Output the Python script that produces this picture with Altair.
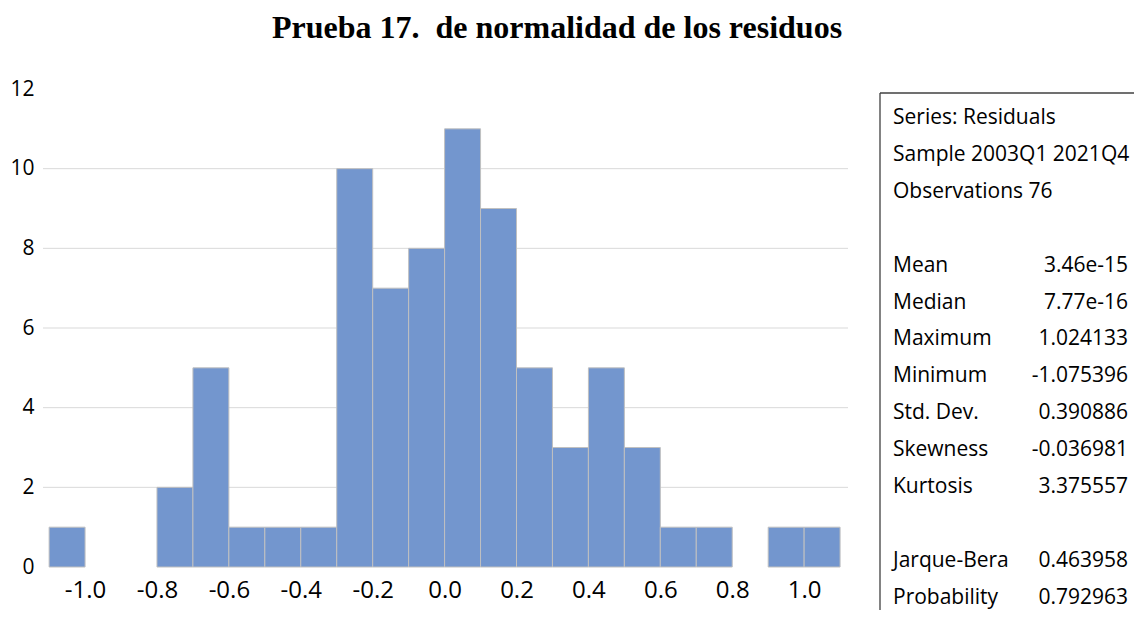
import altair as alt
import pandas as pd

# Histogram data (bin edges and counts)
bin_start = [-1.1, -1.0, -0.9, -0.8, -0.7, -0.6, -0.5, -0.4, -0.3, -0.2, -0.1,
             0.0, 0.1, 0.2, 0.3, 0.4, 0.5, 0.6, 0.7, 0.8, 0.9, 1.0]
bin_end = [-1.0, -0.9, -0.8, -0.7, -0.6, -0.5, -0.4, -0.3, -0.2, -0.1, 0.0,
           0.1, 0.2, 0.3, 0.4, 0.5, 0.6, 0.7, 0.8, 0.9, 1.0, 1.1]
counts = [1, 0, 0, 2, 5, 1, 1, 1, 10, 7, 8,
          11, 9, 5, 3, 5, 3, 1, 1, 0, 1, 1]

x_ticks = [-1.0, -0.8, -0.6, -0.4, -0.2, 0.0, 0.2, 0.4, 0.6, 0.8, 1.0]
y_ticks = [0, 2, 4, 6, 8, 10, 12]
grid_vals = [2, 4, 6, 8, 10]

# Statistics panel
stat_labels = ["Series: Residuals", "Sample 2003Q1 2021Q4", "Observations 76",
               "Mean", "Median", "Maximum", "Minimum", "Std. Dev.",
               "Skewness", "Kurtosis", "Jarque-Bera", "Probability"]
stat_values = ["", "", "", "3.46e-15", "7.77e-16", "1.024133", "-1.075396",
               "0.390886", "-0.036981", "3.375557", "0.463958", "0.792963"]
stat_rows = [0, 1, 2, 4, 5, 6, 7, 8, 9, 10, 12, 13]

title_text = "Prueba 17.\u00a0 de normalidad de los residuos"

hist = pd.DataFrame({"start": bin_start, "end": bin_end, "count": counts})
grid = pd.DataFrame({"g": grid_vals})
stats = pd.DataFrame({"label": stat_labels, "value": stat_values, "row": stat_rows})

W, H = 805, 478
xscale = alt.Scale(domain=[-1.117, 1.122], nice=False, zero=False)
yscale = alt.Scale(domain=[0, 12], nice=False)

LABEL_FONT = "Open Sans"

y_axis = alt.Axis(values=y_ticks, title=None, grid=False, domain=False,
                  ticks=False, labelFont=LABEL_FONT, labelFontSize=21,
                  labelColor="#000000", labelPadding=9, labelFlush=False)
x_axis = alt.Axis(values=x_ticks, title=None, grid=False, domain=False,
                  ticks=False, labelFont=LABEL_FONT, labelFontSize=24,
                  labelColor="#000000", labelPadding=11, labelFlush=False,
                  labelExpr="datum.value < 0 ? '-' + format(-datum.value, '.1f') : format(datum.value, '.1f')")

gridlines = alt.Chart(grid).mark_rule(color="#d9d9d9", strokeWidth=1).encode(
    y=alt.Y("g:Q", scale=yscale, axis=y_axis),
    x=alt.value(0), x2=alt.value(W)
)

bars = alt.Chart(hist).transform_filter("datum.count > 0").mark_rect(
    color="#7396ce", stroke="#c0c0c0", strokeWidth=1
).encode(
    x=alt.X("start:Q", scale=xscale, axis=x_axis),
    x2="end:Q",
    y=alt.Y("count:Q", scale=yscale, axis=y_axis),
    y2=alt.datum(0),
)

base_stats = alt.Chart(stats).transform_calculate(py="29 + 36.9 * datum.row")

stat_lab = base_stats.mark_text(
    align="left", baseline="middle", font=LABEL_FONT, fontSize=21, color="#000000"
).encode(x=alt.value(850), y=alt.Y("py:Q", scale=None), text="label:N")

stat_val = base_stats.mark_text(
    align="right", baseline="middle", font=LABEL_FONT, fontSize=21, color="#000000"
).encode(x=alt.value(1085), y=alt.Y("py:Q", scale=None), text="value:N")

box_top = alt.Chart(pd.DataFrame({"a": [0]})).mark_rule(color="#404040", strokeWidth=1.3).encode(
    x=alt.value(837), x2=alt.value(1100), y=alt.value(4)
)
box_left = alt.Chart(pd.DataFrame({"a": [0]})).mark_rule(color="#404040", strokeWidth=1.3).encode(
    x=alt.value(837), y=alt.value(4), y2=alt.value(525)
)

title = alt.Chart(pd.DataFrame({"t": [title_text]})).mark_text(
    font="Liberation Serif", fontSize=32, fontWeight="bold", color="#000000",
    align="center", baseline="middle"
).encode(x=alt.value(514), y=alt.value(-61), text="t:N")

chart = alt.layer(gridlines, bars, stat_lab, stat_val, box_top, box_left, title).properties(
    width=W, height=H,
    background="white",
    autosize=alt.AutoSizeParams(type="none"),
    padding={"left": 35, "top": 81, "right": 286, "bottom": 43},
).configure_view(stroke=None, strokeWidth=0)

chart.save("out.html", embed_options={"renderer": "svg", "actions": False})
